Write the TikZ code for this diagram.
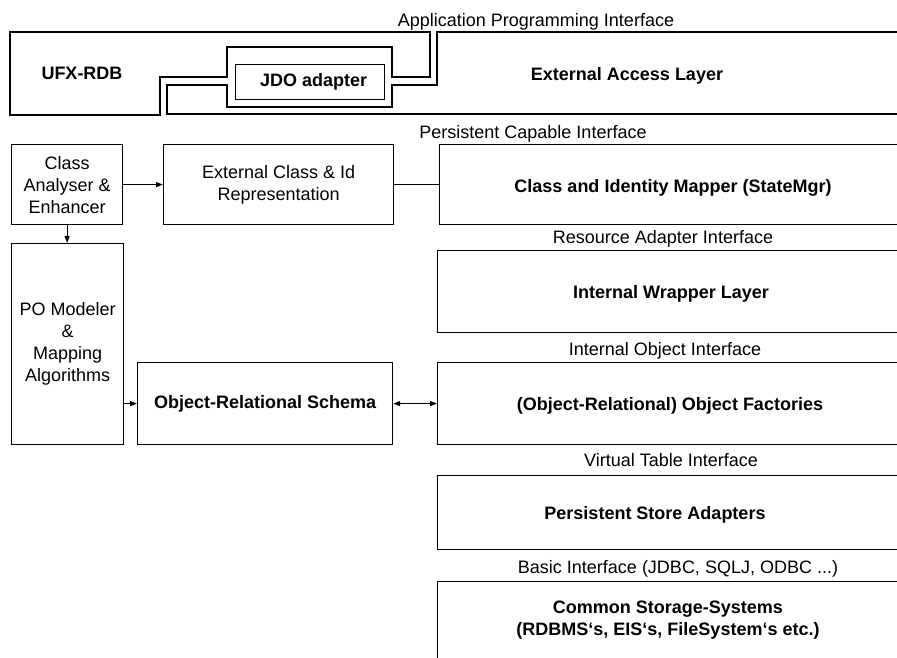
\documentclass[tikz,border=0pt]{standalone}
\usepackage{fontspec}
\setmainfont{Liberation Sans}
\usetikzlibrary{arrows.meta}
\tikzset{
  box/.style={draw, line width=1.2pt, inner sep=0pt, align=center, anchor=north west},
  lbl/.style={anchor=base, inner sep=0pt},
  btxt/.style={anchor=base, inner sep=0pt, font=\fontsize{18}{22}\selectfont\bfseries},
  conn/.style={line width=1.1pt},
  arr/.style={line width=1.1pt, -{Triangle[length=7pt,width=5pt]}},
  arrtwo/.style={line width=1.1pt, {Triangle[length=7pt,width=5pt]}-{Triangle[length=7pt,width=5pt]}},
  shapeline/.style={line width=1.2pt, line join=miter}
}
\begin{document}
\begin{tikzpicture}[x=1pt,y=-1pt,font=\fontsize{18}{22}\selectfont]
\useasboundingbox (0,0) rectangle (897,657);
\clip (0,0) rectangle (897,657);
\fill[white] (0,0) rectangle (897,657);

% top layer shapes
\draw[shapeline] (10,32) -- (430,32) -- (430,77) -- (392,77) -- (392,47) -- (227,47) -- (227,77) -- (160,77) -- (160,115) -- (10,115) -- cycle;
\draw[shapeline] (437,32) -- (905,32) -- (905,114) -- (167,114) -- (167,85) -- (227,85) -- (227,107) -- (392,107) -- (392,85) -- (437,85) -- cycle;
\node[box, minimum width=149, minimum height=35, font=\fontsize{18}{22}\selectfont\bfseries] (jdo) at (235,64) {\hspace{7pt}JDO adapter};
\node[btxt] (ufx) at (82,79) {UFX-RDB};
\node[btxt] (eal) at (627,80) {External Access Layer};
\node[lbl] (api) at (536,26) {Application Programming Interface};

% second row
\node[box, minimum width=111, minimum height=80] (cae) at (11,144) {Class\\Analyser \&\\Enhancer};
\node[box, minimum width=230, minimum height=80] (ecr) at (163,144) {External Class \& Id\\Representation};
\node[box, minimum width=466, minimum height=80] (cim) at (439,144) {};
\node[btxt] (cimt) at (673,192) {Class and Identity Mapper (StateMgr)};
\node[lbl] (pci) at (533,138) {Persistent Capable Interface};

% left column
\node[box, minimum width=112, minimum height=201] (po) at (11,243) {PO Modeler\\\&\\Mapping\\Algorithms};
\node[box, minimum width=255, minimum height=82, font=\fontsize{18}{22}\selectfont\bfseries] (ors) at (137,362) {Object-Relational Schema};

% right column
\node[lbl] (rai) at (663,243) {Resource Adapter Interface};
\node[box, minimum width=468, minimum height=82] (iw) at (437,250) {};
\node[btxt] (iwt) at (671,298) {Internal Wrapper Layer};

\node[lbl] (ioi) at (665,355) {Internal Object Interface};
\node[box, minimum width=468, minimum height=82] (of) at (437,362) {};
\node[btxt] (oft) at (670,410) {(Object-Relational) Object Factories};

\node[lbl] (vti) at (671,466) {Virtual Table Interface};
\node[box, minimum width=468, minimum height=74] (psa) at (437,475) {};
\node[btxt] (psat) at (655,519) {Persistent Store Adapters};

\node[lbl] (bi) at (678,573) {Basic Interface (JDBC, SQLJ, ODBC ...)};
\node[box, minimum width=468, minimum height=100] (css) at (437,581) {};
\node[btxt, align=center, anchor=north] (csst) at (668,601) {Common Storage-Systems\\(RDBMS‘s, EIS‘s, FileSystem‘s etc.)};

% connectors
\draw[arr] (cae.east) -- (ecr.west);
\draw[conn] (ecr.east) -- (ecr.east -| cim.west);
\draw[arr] (cae.south) -- (cae.south |- po.north);
\draw[arr] (po.east |- ors.west) -- (ors.west);
\draw[arrtwo] (ors.east) -- (ors.east -| of.west);
\end{tikzpicture}
\end{document}
